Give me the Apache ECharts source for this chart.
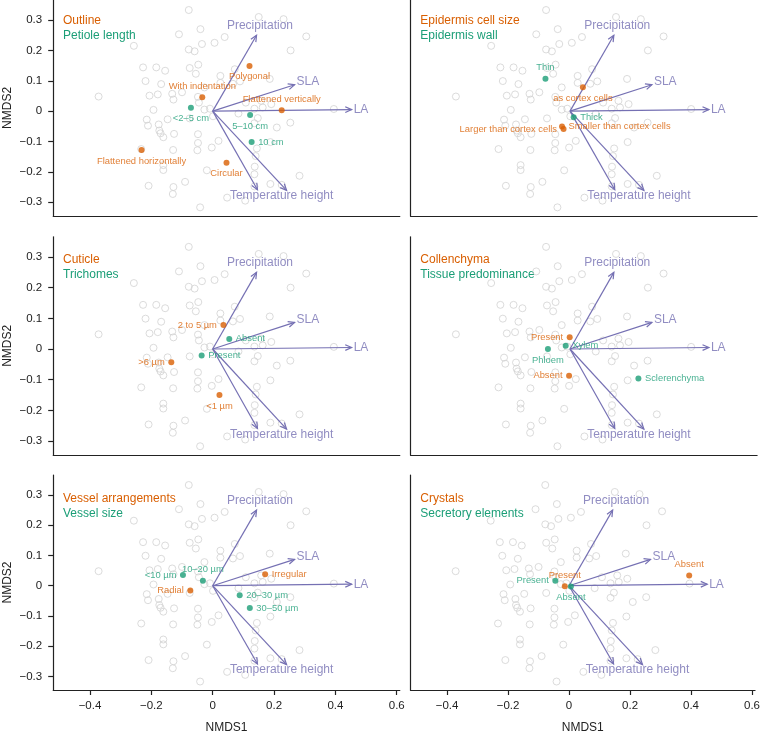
<!DOCTYPE html>
<html><head><meta charset="utf-8">
<script src="https://cdn.jsdelivr.net/npm/echarts@6/dist/echarts.min.js"></script>
<style>html,body{margin:0;padding:0;background:#fff}#c{width:763px;height:735px}</style>
</head><body><div id="c"></div>
<script>
// ---------- DATA ----------
const xTicks = [-0.4, -0.2, 0, 0.2, 0.4, 0.6];
const yTicks = [-0.3, -0.2, -0.1, 0, 0.1, 0.2, 0.3];

// sample sites (NMDS1, NMDS2) — identical in every panel
const sampleSites = [
 [-0.078,0.333],[0.150,0.310],[0.231,0.303],[0.305,0.246],[-0.040,0.270],[-0.110,0.253],
 [0.039,0.244],[-0.035,0.221],[0.006,0.225],[-0.257,0.215],[-0.078,0.203],[-0.059,0.197],
 [0.254,0.200],[-0.047,0.153],[-0.075,0.142],[-0.227,0.144],[-0.184,0.144],[-0.155,0.133],
 [-0.055,0.123],[0.025,0.116],[0.072,0.138],[-0.219,0.099],[-0.168,0.089],[0.025,0.093],
 [0.066,0.090],[0.089,0.098],[0.186,0.106],[-0.027,0.078],[-0.372,0.048],[-0.206,0.051],
 [-0.179,0.055],[-0.132,0.057],[-0.100,0.062],[-0.128,0.038],[-0.048,0.047],[-0.045,0.028],
 [0.108,0.028],[0.158,0.034],[0.191,0.023],[0.163,0.012],[0.136,0.008],[0.084,-0.008],
 [0.395,0.007],[-0.193,0.004],[-0.027,0.005],[-0.009,0.008],[-0.215,-0.028],[-0.211,-0.048],
 [-0.176,-0.044],[-0.147,-0.027],[-0.174,-0.064],[-0.170,-0.073],[-0.161,-0.086],[-0.126,-0.075],
 [-0.075,-0.024],[-0.048,-0.076],[-0.048,-0.105],[-0.050,-0.129],[-0.003,-0.120],[0.019,-0.098],
 [-0.129,-0.128],[-0.233,-0.125],[-0.161,-0.178],[-0.161,-0.194],[-0.209,-0.246],[-0.128,-0.250],
 [-0.130,-0.273],[-0.090,-0.233],[-0.019,-0.195],[-0.041,-0.317],[0.047,-0.285],[0.106,-0.295],
 [0.136,-0.248],[0.188,-0.240],[0.225,-0.243],[0.283,-0.213],[0.137,-0.183],[0.136,-0.208],
 [0.144,-0.123],[0.140,-0.148],[0.188,-0.102],[0.209,-0.054],[0.253,-0.038],[0.147,-0.023],
 [0.136,-0.040],[0.001,-0.017]
];

// fitted environmental vectors
const vectorNames = ['Precipitation', 'SLA', 'LA', 'Temperature', 'height'];
const vectorX = [0.143, 0.267, 0.453, 0.146, 0.241];
const vectorY = [0.250, 0.087, 0.005, -0.259, -0.261];
const vectorLabels = ['Precipitation', 'SLA', 'LA', '', 'Temperature height'];

// panel headings
const traitA = ['Outline', 'Epidermis cell size', 'Cuticle', 'Collenchyma', 'Vessel arrangements', 'Crystals'];
const traitB = ['Petiole length', 'Epidermis wall', 'Trichomes', 'Tissue predominance', 'Vessel size', 'Secretory elements'];

// trait-state centroids, first trait (orange)
const stateA_names = [
 ['Polygonal', 'With indentation', 'Flattened vertically', 'Flattened horizontally', 'Circular'],
 ['as cortex cells', 'Smaller than cortex cells', 'Larger than cortex cells'],
 ['2 to 5 µm', '>6 µm', '<1 µm'],
 ['Present', 'Absent'],
 ['Irregular', 'Radial'],
 ['Absent', 'Present']
];
const stateA_x = [
 [0.120, -0.034, 0.225, -0.232, 0.045],
 [0.042, -0.026, -0.021],
 [0.035, -0.135, 0.022],
 [-0.001, -0.003],
 [0.171, -0.073],
 [0.394, -0.014]
];
const stateA_y = [
 [0.149, 0.046, 0.003, -0.128, -0.170],
 [0.079, -0.051, -0.059],
 [0.078, -0.043, -0.150],
 [0.038, -0.087],
 [0.038, -0.016],
 [0.034, -0.002]
];
// trait-state centroids, second trait (green)
const stateB_names = [
 ['<2–5 cm', '5–10 cm', '10 cm'],
 ['Thin', 'Thick'],
 ['Absent', 'Present'],
 ['Phloem', 'Xylem', 'Sclerenchyma'],
 ['<10 µm', '10–20 µm', '20–30 µm', '30–50 µm'],
 ['Present', 'Absent']
];
const stateB_x = [
 [-0.071, 0.122, 0.127],
 [-0.080, 0.012],
 [0.054, -0.036],
 [-0.072, -0.014, 0.223],
 [-0.097, -0.032, 0.088, 0.121],
 [-0.045, 0.006]
];
const stateB_y = [
 [0.011, -0.013, -0.102],
 [0.107, -0.020],
 [0.033, -0.021],
 [0.000, 0.011, -0.096],
 [0.035, 0.016, -0.032, -0.074],
 [0.016, -0.003]
];

// ---------- STYLE / LAYOUT ----------
const labelPosA = [
 ['bottom','top','top','bottom','bottom'],
 ['bottom','right','left'],
 ['left','left','bottom'],
 ['left','left'],
 ['right','left'],
 ['top','top']
];
const labelPosB = [
 ['bottom','bottom','right'],
 ['top','right'],
 ['right','right'],
 ['bottom','right','right'],
 ['left','top','right','right'],
 ['left','bottom']
];
const vecLabelStyle = [
 {position:'inside', offset:[3.4,-9.3]},
 {position:'right', distance:2, offset:[0,-3]},
 {position:'right', distance:2, offset:[0,0]},
 {position:'inside', offset:[0,0]},
 {position:'inside', offset:[-5,5.5]}
];

const ORANGE = '#d95f02', GREEN = '#1b9e77', PURPLE = '#7570b3', GREY = '#d2d2d2', AX = '#222';
const FONT = '"Liberation Sans", Arial, Helvetica, sans-serif';
const colLeft = [53.2, 410.5], gridW = 346.6;
const rowTop = [-2.25, 236.75, 475.05], gridH = 218.1;
const XMIN = -0.52, XMAX = 0.61, YMIN = -0.345, YMAX = 0.366;

const fmt = v => v === 0 ? '0' : (v < 0 ? '\u2212' + String(Math.abs(v)) : String(v));

const grids = [], xAxes = [], yAxes = [], series = [], graphics = [];

function arrowRender(params, api) {
  const o = api.coord([0, 0]);
  const t = api.coord([api.value(0), api.value(1)]);
  const ang = Math.atan2(t[1] - o[1], t[0] - o[0]);
  const L = 7, a = Math.PI / 7.5;
  const p1 = [t[0] - L * Math.cos(ang - a), t[1] - L * Math.sin(ang - a)];
  const p2 = [t[0] - L * Math.cos(ang + a), t[1] - L * Math.sin(ang + a)];
  return {
    type: 'group',
    children: [
      {type: 'line', shape: {x1: o[0], y1: o[1], x2: t[0], y2: t[1]}, style: {stroke: PURPLE, lineWidth: 1.2}},
      {type: 'polyline', shape: {points: [p1, t, p2]}, style: {stroke: PURPLE, fill: null, lineWidth: 1.2}}
    ]
  };
}

for (let i = 0; i < 6; i++) {
  const row = Math.floor(i / 2), col = i % 2;
  const showX = row === 2, showY = col === 0;
  grids.push({left: colLeft[col], top: rowTop[row], width: gridW, height: gridH});
  xAxes.push({
    gridIndex: i, type: 'value', min: XMIN, max: XMAX,
    axisLine: {show: true, onZero: false, lineStyle: {color: AX, width: 1.2}},
    axisTick: {show: showX, customValues: xTicks, length: 5, lineStyle: {color: AX, width: 1.2}},
    axisLabel: {show: showX, customValues: xTicks, formatter: fmt, margin: 10, fontSize: 11.5, color: AX, fontFamily: FONT},
    splitLine: {show: false},
    name: showX ? 'NMDS1' : '', nameLocation: 'middle', nameGap: 32,
    nameTextStyle: {fontSize: 12, color: AX, fontFamily: FONT}
  });
  yAxes.push({
    gridIndex: i, type: 'value', min: YMIN, max: YMAX,
    axisLine: {show: true, onZero: false, lineStyle: {color: AX, width: 1.2}},
    axisTick: {show: showY, customValues: yTicks, length: 5, lineStyle: {color: AX, width: 1.2}},
    axisLabel: {show: showY, customValues: yTicks, formatter: fmt, margin: 11, fontSize: 11.5, color: AX, fontFamily: FONT},
    splitLine: {show: false},
    name: showY ? 'NMDS2' : '', nameLocation: 'middle', nameGap: 40, nameRotate: 90,
    nameTextStyle: {fontSize: 12, color: AX, fontFamily: FONT}
  });

  // grey site symbols
  series.push({
    type: 'scatter', xAxisIndex: i, yAxisIndex: i, silent: true, z: 1,
    symbol: 'circle', symbolSize: 7,
    itemStyle: {color: 'rgba(255,255,255,0)', borderColor: GREY, borderWidth: 1},
    data: sampleSites.map(p => [p[0], p[1]])
  });
  // vectors
  series.push({
    type: 'custom', xAxisIndex: i, yAxisIndex: i, silent: true, z: 2,
    renderItem: arrowRender,
    data: vectorX.map((x, j) => [x, vectorY[j]])
  });
  // vector labels
  series.push({
    type: 'scatter', xAxisIndex: i, yAxisIndex: i, silent: true, z: 3, symbolSize: 0,
    data: vectorX.map((x, j) => ({
      value: [x, vectorY[j]],
      label: Object.assign({show: vectorLabels[j] !== '', formatter: vectorLabels[j], color: PURPLE,
        fontSize: 12, fontFamily: FONT}, vecLabelStyle[j])
    }))
  });
  // orange states
  series.push({
    type: 'scatter', xAxisIndex: i, yAxisIndex: i, silent: true, z: 5,
    symbol: 'circle', symbolSize: 6, itemStyle: {color: ORANGE},
    data: stateA_x[i].map((x, j) => ({
      value: [x, stateA_y[i][j]],
      label: {show: true, formatter: stateA_names[i][j], position: labelPosA[i][j], distance: 3.5,
        color: ORANGE, fontSize: 9.4, fontFamily: FONT}
    }))
  });
  // green states
  series.push({
    type: 'scatter', xAxisIndex: i, yAxisIndex: i, silent: true, z: 5,
    symbol: 'circle', symbolSize: 6, itemStyle: {color: GREEN},
    data: stateB_x[i].map((x, j) => ({
      value: [x, stateB_y[i][j]],
      label: {show: true, formatter: stateB_names[i][j], position: labelPosB[i][j], distance: 3.5,
        color: GREEN, fontSize: 9.4, fontFamily: FONT}
    }))
  });

  const zeroY = [110, 349, 587.3][row];
  graphics.push({type: 'text', left: colLeft[col] + 9.8, top: zeroY - 95,
    style: {text: traitA[i], fill: ORANGE, fontSize: 12, fontFamily: FONT}});
  graphics.push({type: 'text', left: colLeft[col] + 9.8, top: zeroY - 80,
    style: {text: traitB[i], fill: GREEN, fontSize: 12, fontFamily: FONT}});
}

const chart = echarts.init(document.getElementById('c'));
chart.setOption({
  animation: false,
  backgroundColor: '#fff',
  grid: grids, xAxis: xAxes, yAxis: yAxes, series: series, graphic: graphics
});
</script></body></html>
